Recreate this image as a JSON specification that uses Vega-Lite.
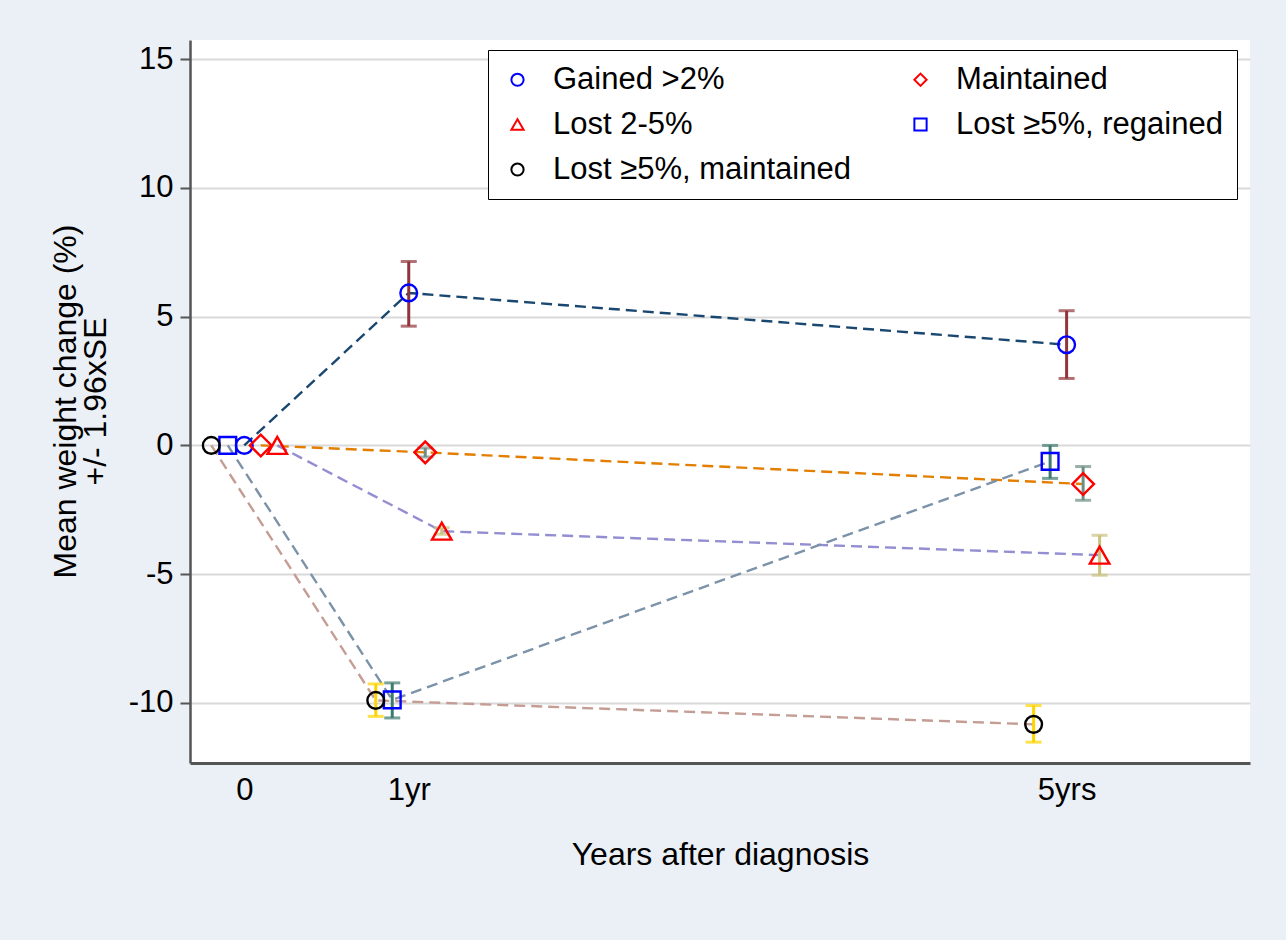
{
  "$schema": "https://vega.github.io/schema/vega-lite/v6.json",
  "width": 1060,
  "height": 723,
  "autosize": {"type": "none"},
  "padding": {"left": 190, "top": 40, "right": 36, "bottom": 177},
  "background": "#ebf0f6",
  "config": {
    "font": "Liberation Sans",
    "view": {"fill": "white", "stroke": null},
    "axis": {"labelFont": "Liberation Sans", "titleFont": "Liberation Sans", "labelColor": "#000", "titleColor": "#000", "titleFontWeight": "normal"},
    "legend": {"labelFont": "Liberation Sans"}
  },
  "data": {
    "values": [
      {"group": "Gained >2%", "year": 0, "mean": 0, "lo": null, "hi": null},
      {"group": "Gained >2%", "year": 1, "mean": 5.92, "lo": 4.63, "hi": 7.14},
      {"group": "Gained >2%", "year": 5, "mean": 3.91, "lo": 2.6, "hi": 5.23},
      {"group": "Maintained", "year": 0, "mean": 0, "lo": null, "hi": null},
      {"group": "Maintained", "year": 1, "mean": -0.27, "lo": -0.45, "hi": -0.1},
      {"group": "Maintained", "year": 5, "mean": -1.5, "lo": -2.13, "hi": -0.82},
      {"group": "Lost 2-5%", "year": 0, "mean": 0, "lo": null, "hi": null},
      {"group": "Lost 2-5%", "year": 1, "mean": -3.33, "lo": -3.45, "hi": -3.2},
      {"group": "Lost 2-5%", "year": 5, "mean": -4.26, "lo": -5.04, "hi": -3.49},
      {"group": "Lost ≥5%, regained", "year": 0, "mean": 0, "lo": null, "hi": null},
      {"group": "Lost ≥5%, regained", "year": 1, "mean": -9.88, "lo": -10.58, "hi": -9.22},
      {"group": "Lost ≥5%, regained", "year": 5, "mean": -0.62, "lo": -1.28, "hi": 0.0},
      {"group": "Lost ≥5%, maintained", "year": 0, "mean": 0, "lo": null, "hi": null},
      {"group": "Lost ≥5%, maintained", "year": 1, "mean": -9.9, "lo": -10.52, "hi": -9.26},
      {"group": "Lost ≥5%, maintained", "year": 5, "mean": -10.83, "lo": -11.52, "hi": -10.1}
    ]
  },
  "encoding": {
    "x": {
      "field": "year", "type": "quantitative",
      "scale": {"domain": [-0.33, 6.115], "nice": false, "zero": false},
      "axis": {
        "values": [0, 1, 5],
        "labelExpr": "datum.value == 0 ? '0' : datum.value == 1 ? '1yr' : '5yrs'",
        "title": "Years after diagnosis",
        "grid": false, "ticks": false,
        "labelFontSize": 31, "titleFontSize": 32,
        "labelPadding": 12, "titlePadding": 34,
        "domainColor": "#555555", "domainWidth": 3
      }
    }
  },
  "layer": [
    {
      "mark": {"type": "line", "strokeDash": [11, 6], "strokeWidth": 2.4,
        "xOffset": {"expr": "indexof(['Lost ≥5%, maintained','Lost ≥5%, regained','Gained >2%','Maintained','Lost 2-5%'], datum.group) * 16.5 - 33"}},
      "encoding": {
        "y": {
          "field": "mean", "type": "quantitative",
          "scale": {"domain": [-12.33, 15.74], "nice": false, "zero": false},
          "axis": {
            "values": [-10, -5, 0, 5, 10, 15],
            "labelExpr": "'' + datum.value",
            "title": ["Mean weight change (%)", "+/- 1.96xSE"],
            "titleFontSize": 32, "titleLineHeight": 30,
            "titleAngle": -90, "titleAlign": "center", "titleBaseline": "top",
            "titleX": -140, "titleY": 361,
            "labelFontSize": 31, "labelPadding": 7,
            "tickSize": 10, "tickColor": "#555555", "tickWidth": 2,
            "grid": true, "gridColor": "#d9d9d9", "gridWidth": 2,
            "domainColor": "#555555", "domainWidth": 2.5
          }
        },
        "color": {
          "field": "group", "type": "nominal",
          "scale": {
            "domain": ["Gained >2%", "Maintained", "Lost 2-5%", "Lost ≥5%, regained", "Lost ≥5%, maintained"],
            "range": ["#1a476f", "#e37e00", "#938dd2", "#7b92a8", "#c49d94"]
          },
          "legend": null
        },
        "detail": {"field": "group"},
        "order": {"field": "year"}
      }
    },
    {
      "mark": {"type": "rule", "strokeWidth": 3,
        "xOffset": {"expr": "indexof(['Lost ≥5%, maintained','Lost ≥5%, regained','Gained >2%','Maintained','Lost 2-5%'], datum.group) * 16.5 - 33"}},
      "encoding": {
        "y": {"field": "lo", "type": "quantitative"},
        "y2": {"field": "hi"},
        "color": {
          "field": "group", "type": "nominal",
          "scale": {
            "domain": ["Gained >2%", "Maintained", "Lost 2-5%", "Lost ≥5%, regained", "Lost ≥5%, maintained"],
            "range": ["#90353b", "#6e8e84", "#cac27e", "#3e7b6f", "#ffd400"]
          },
          "legend": null
        }
      }
    },
    {
      "mark": {"type": "tick", "orient": "horizontal", "size": 16, "thickness": 3,
        "xOffset": {"expr": "indexof(['Lost ≥5%, maintained','Lost ≥5%, regained','Gained >2%','Maintained','Lost 2-5%'], datum.group) * 16.5 - 33"}},
      "encoding": {
        "y": {"field": "lo", "type": "quantitative"},
        "color": {
          "field": "group", "type": "nominal",
          "scale": {
            "domain": ["Gained >2%", "Maintained", "Lost 2-5%", "Lost ≥5%, regained", "Lost ≥5%, maintained"],
            "range": ["#90353b", "#6e8e84", "#cac27e", "#3e7b6f", "#ffd400"]
          },
          "legend": null
        }
      }
    },
    {
      "mark": {"type": "tick", "orient": "horizontal", "size": 16, "thickness": 3,
        "xOffset": {"expr": "indexof(['Lost ≥5%, maintained','Lost ≥5%, regained','Gained >2%','Maintained','Lost 2-5%'], datum.group) * 16.5 - 33"}},
      "encoding": {
        "y": {"field": "hi", "type": "quantitative"},
        "color": {
          "field": "group", "type": "nominal",
          "scale": {
            "domain": ["Gained >2%", "Maintained", "Lost 2-5%", "Lost ≥5%, regained", "Lost ≥5%, maintained"],
            "range": ["#90353b", "#6e8e84", "#cac27e", "#3e7b6f", "#ffd400"]
          },
          "legend": null
        }
      }
    },
    {
      "mark": {"type": "point", "filled": false, "strokeWidth": 2.4, "opacity": 1,
        "xOffset": {"expr": "indexof(['Lost ≥5%, maintained','Lost ≥5%, regained','Gained >2%','Maintained','Lost 2-5%'], datum.group) * 16.5 - 33"}},
      "encoding": {
        "y": {"field": "mean", "type": "quantitative"},
        "size": {
          "field": "group", "type": "nominal",
          "scale": {
            "type": "ordinal",
            "domain": ["Gained >2%", "Maintained", "Lost 2-5%", "Lost ≥5%, regained", "Lost ≥5%, maintained"],
            "range": [280, 470, 380, 280, 280]
          },
          "legend": null
        },
        "color": {
          "field": "group", "type": "nominal",
          "scale": {
            "domain": ["Gained >2%", "Maintained", "Lost 2-5%", "Lost ≥5%, regained", "Lost ≥5%, maintained"],
            "range": ["#0000ff", "#ff0000", "#ff0000", "#0000ff", "#000000"]
          },
          "legend": {
            "title": null, "orient": "none", "legendX": 298, "legendY": 10,
            "columns": 2, "direction": "horizontal",
            "strokeColor": "#000000", "fillColor": "white", "padding": 14,
            "labelFontSize": 31, "labelColor": "#000", "labelOffset": 20, "labelLimit": 500,
            "symbolSize": 150, "symbolStrokeWidth": 2,
            "rowPadding": 13, "columnPadding": 54
          }
        },
        "shape": {
          "field": "group", "type": "nominal",
          "scale": {
            "domain": ["Gained >2%", "Maintained", "Lost 2-5%", "Lost ≥5%, regained", "Lost ≥5%, maintained"],
            "range": ["circle", "diamond", "triangle-up", "square", "circle"]
          },
          "legend": {
            "title": null, "orient": "none", "legendX": 298, "legendY": 10,
            "columns": 2, "direction": "horizontal",
            "strokeColor": "#000000", "fillColor": "white", "padding": 14,
            "labelFontSize": 31, "labelColor": "#000", "labelOffset": 20, "labelLimit": 500,
            "symbolSize": 150, "symbolStrokeWidth": 2,
            "rowPadding": 13, "columnPadding": 54
          }
        }
      }
    }
  ],
  "resolve": {"scale": {"color": "independent", "shape": "independent"}}
}
